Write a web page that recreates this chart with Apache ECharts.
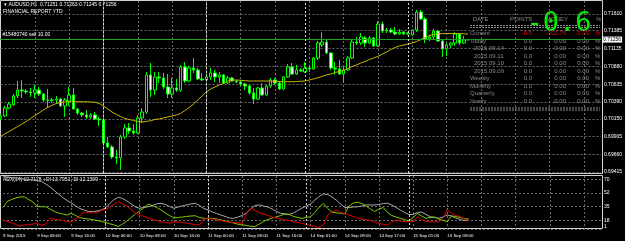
<!DOCTYPE html>
<html>
<head>
<meta charset="utf-8">
<script src="https://cdn.jsdelivr.net/npm/echarts@6/dist/echarts.min.js"></script>
<style>
  html, body { margin: 0; padding: 0; background: #000; }
  #chart { width: 625px; height: 241px; }
</style>
</head>
<body>
<div id="chart"></div>
<script>
  // AUDUSD H1, 9 Sep 2015 00:00 .. 15 Sep 2015 14:00
  const tradingDays = [['2015.09.09', 0, 23], ['2015.09.10', 0, 23], ['2015.09.11', 0, 22], ['2015.09.14', 0, 23], ['2015.09.15', 0, 14]];
  const emptySlots = 31;

  const opens  = [0.70166,0.70194,0.70305,0.70347,0.70472,0.70555,0.70541,0.70527,0.70513,0.70555,
                  0.70499,0.70416,0.70409,0.70416,0.70430,0.70333,0.70402,0.70486,0.70291,0.70235,
                  0.70208,0.70180,0.70208,0.70152,0.70138,0.69818,0.69763,0.69624,0.69610,0.69902,
                  0.70027,0.69985,0.69957,0.70166,0.70249,0.70764,0.70555,0.70736,0.70722,0.70597,
                  0.70499,0.70583,0.70555,0.70875,0.70680,0.70861,0.70833,0.70708,0.70694,0.70736,
                  0.70791,0.70736,0.70764,0.70652,0.70722,0.70680,0.70666,0.70638,0.70611,0.70513,
                  0.70430,0.70583,0.70486,0.70611,0.70694,0.70652,0.70569,0.70736,0.70875,0.70777,
                  0.70833,0.70805,0.70861,0.70847,0.71000,0.71181,0.71222,0.71069,0.70861,0.70847,
                  0.70777,0.70833,0.71000,0.71222,0.71208,0.71278,0.71208,0.71278,0.71167,0.71472,
                  0.71375,0.71389,0.71361,0.71333,0.71361,0.71333,0.71320,0.71389,0.71639,0.71542,
                  0.71264,0.71292,0.71375,0.71236,0.71125,0.71181,0.71208,0.71333,0.71208,0.71251];
  const highs  = [0.70221,0.70333,0.70388,0.70499,0.70680,0.70694,0.70569,0.70583,0.70625,0.70597,
                  0.70513,0.70569,0.70444,0.70472,0.70444,0.70444,0.70597,0.70583,0.70305,0.70249,
                  0.70277,0.70235,0.70249,0.70180,0.70166,0.69902,0.69791,0.69721,0.69930,0.70082,
                  0.70096,0.70082,0.70208,0.70305,0.70805,0.70930,0.70805,0.70805,0.70791,0.70777,
                  0.70722,0.70708,0.70903,0.70944,0.70889,0.71000,0.70861,0.70791,0.70777,0.70861,
                  0.70833,0.70805,0.70777,0.70750,0.70736,0.70694,0.70694,0.70652,0.70625,0.70583,
                  0.70597,0.70652,0.70625,0.70722,0.70722,0.70680,0.70750,0.70916,0.70930,0.70903,
                  0.70861,0.70944,0.70903,0.71014,0.71236,0.71361,0.71250,0.71083,0.70944,0.70972,
                  0.70875,0.71028,0.71250,0.71292,0.71347,0.71306,0.71306,0.71292,0.71514,0.71500,
                  0.71417,0.71417,0.71431,0.71403,0.71375,0.71361,0.71403,0.71667,0.71667,0.71570,
                  0.71320,0.71403,0.71389,0.71250,0.71208,0.71222,0.71361,0.71347,0.71306,0.71263];
  const lows   = [0.70138,0.70180,0.70291,0.70333,0.70444,0.70444,0.70499,0.70458,0.70444,0.70472,
                  0.70388,0.70305,0.70374,0.70360,0.70319,0.70180,0.70333,0.70277,0.70208,0.70180,
                  0.70152,0.70152,0.70138,0.70055,0.69804,0.69749,0.69596,0.69526,0.69443,0.69874,
                  0.69943,0.69930,0.69943,0.70096,0.70221,0.70458,0.70486,0.70652,0.70569,0.70444,
                  0.70444,0.70527,0.70527,0.70652,0.70666,0.70791,0.70694,0.70680,0.70680,0.70694,
                  0.70666,0.70652,0.70638,0.70638,0.70666,0.70652,0.70611,0.70555,0.70486,0.70360,
                  0.70416,0.70472,0.70472,0.70583,0.70625,0.70555,0.70555,0.70722,0.70764,0.70764,
                  0.70805,0.70791,0.70805,0.70833,0.70972,0.71153,0.71055,0.70833,0.70764,0.70764,
                  0.70652,0.70819,0.70986,0.71181,0.71181,0.71153,0.71194,0.71153,0.71153,0.71347,
                  0.71347,0.71347,0.71320,0.71320,0.71320,0.71320,0.71306,0.71361,0.71528,0.71208,
                  0.71236,0.71250,0.71222,0.71014,0.71028,0.71139,0.71167,0.71181,0.71194,0.71245];
  const closes = [0.70194,0.70305,0.70360,0.70472,0.70555,0.70541,0.70527,0.70513,0.70555,0.70499,
                  0.70416,0.70409,0.70416,0.70430,0.70333,0.70416,0.70486,0.70291,0.70235,0.70208,
                  0.70180,0.70208,0.70152,0.70138,0.69818,0.69763,0.69624,0.69610,0.69902,0.70027,
                  0.69985,0.69957,0.70166,0.70249,0.70764,0.70555,0.70736,0.70722,0.70597,0.70499,
                  0.70583,0.70555,0.70875,0.70680,0.70861,0.70833,0.70708,0.70694,0.70736,0.70791,
                  0.70736,0.70764,0.70652,0.70722,0.70680,0.70666,0.70638,0.70611,0.70513,0.70430,
                  0.70583,0.70486,0.70611,0.70694,0.70652,0.70569,0.70736,0.70875,0.70777,0.70833,
                  0.70819,0.70861,0.70847,0.71000,0.71208,0.71222,0.71069,0.70861,0.70847,0.70777,
                  0.70833,0.71000,0.71222,0.71208,0.71292,0.71208,0.71278,0.71167,0.71472,0.71375,
                  0.71389,0.71361,0.71333,0.71361,0.71333,0.71347,0.71389,0.71639,0.71542,0.71264,
                  0.71292,0.71375,0.71236,0.71125,0.71181,0.71208,0.71333,0.71208,0.71250,0.71256];

  const maValues = [0.69909,0.69943,0.69978,0.70013,0.70048,0.70082,0.70117,0.70159,0.70201,0.70235,
                    0.70277,0.70312,0.70340,0.70367,0.70381,0.70388,0.70392,0.70392,0.70392,0.70392,
                    0.70392,0.70388,0.70384,0.70370,0.70333,0.70291,0.70249,0.70215,0.70187,0.70159,
                    0.70145,0.70131,0.70117,0.70110,0.70117,0.70128,0.70145,0.70152,0.70166,0.70180,
                    0.70194,0.70208,0.70228,0.70270,0.70312,0.70360,0.70416,0.70472,0.70527,0.70569,
                    0.70597,0.70625,0.70645,0.70680,0.70694,0.70694,0.70690,0.70684,0.70680,0.70680,
                    0.70680,0.70680,0.70680,0.70680,0.70677,0.70673,0.70670,0.70670,0.70670,0.70673,
                    0.70676,0.70680,0.70694,0.70708,0.70726,0.70743,0.70764,0.70777,0.70798,0.70812,
                    0.70826,0.70854,0.70882,0.70903,0.70930,0.70951,0.70979,0.71000,0.71021,0.71055,
                    0.71083,0.71118,0.71146,0.71167,0.71181,0.71194,0.71208,0.71229,0.71257,0.71285,
                    0.71313,0.71326,0.71333,0.71338,0.71340,0.71340,0.71340,0.71338,0.71336,0.71333];

  // ADX(14) window, values as read against the window's own grid
  const adxMain = [73.5,73.2,72.5,71.9,71.3,70.5,70.0,69.4,68.5,67.4,64.3,60.5,56.0,51.6,47.1,43.3,40.2,36.4,33.2,31.3,
                   29.4,29.4,30.0,31.3,33.8,39.5,44.6,47.4,45.9,42.8,39.0,35.1,33.5,34.5,35.4,37.0,39.0,39.8,38.3,35.7,
                   33.5,35.1,36.6,37.7,39.0,39.8,37.0,33.2,31.3,28.7,26.9,24.9,23.1,21.1,20.7,22.4,24.3,27.5,32.5,37.0,
                   37.7,36.3,35.1,32.5,29.4,27.1,26.2,25.8,27.5,30.6,33.8,36.3,39.0,44.0,48.4,51.6,50.9,47.8,44.0,39.0,
                   34.5,34.5,35.1,35.4,36.3,37.7,37.7,37.7,38.3,39.5,39.8,37.7,34.5,31.3,28.1,25.6,25.6,28.1,28.7,25.6,
                   22.8,21.8,20.7,22.4,24.9,23.7,21.1,19.3,18.0,18.6];
  const plusDi  = [34.5,42.1,44.6,46.6,47.8,47.8,44.6,41.5,35.7,35.4,35.4,32.5,29.4,27.5,26.2,24.9,27.1,24.3,21.8,20.5,
                   19.9,19.0,18.0,16.7,15.5,13.8,12.3,10.4,13.5,17.3,21.8,26.2,30.0,34.5,38.6,37.0,34.5,31.3,27.5,24.3,
                   21.1,21.8,22.4,23.1,23.7,24.0,21.8,20.7,20.7,20.7,19.9,18.6,17.3,16.0,14.8,13.3,12.3,11.7,10.7,10.4,
                   13.5,16.7,19.3,21.1,22.4,24.3,26.2,25.6,23.1,21.8,20.7,21.8,22.8,28.1,35.1,39.5,33.2,28.7,27.7,27.1,
                   26.2,36.3,40.2,41.1,39.5,36.3,32.5,29.4,32.5,34.5,28.1,24.3,22.4,20.7,19.3,17.3,21.8,26.9,23.7,20.7,
                   21.8,22.4,19.9,18.0,16.7,23.7,23.1,21.8,20.5,19.7];
  const minusDi = [18.6,16.7,14.8,12.9,11.0,12.3,12.9,13.5,14.2,11.7,13.5,20.7,19.7,18.9,18.0,16.7,16.4,19.9,24.3,28.7,
                   28.1,27.5,28.1,30.7,31.9,34.5,39.0,41.8,39.0,36.3,31.9,27.5,24.9,23.1,21.1,19.3,18.0,16.7,15.5,14.4,
                   16.0,16.0,15.5,14.8,13.5,12.9,12.3,19.9,20.2,19.9,18.9,18.0,16.7,16.0,15.5,14.8,14.4,26.2,33.5,30.7,
                   28.1,26.2,24.3,22.4,21.1,19.9,18.6,18.0,16.7,15.5,14.4,12.9,11.7,10.4,9.1,12.3,24.9,28.7,31.3,28.1,
                   26.9,24.9,23.1,21.1,19.9,18.9,18.0,16.0,14.4,12.9,12.3,16.0,18.6,17.3,16.4,16.4,16.4,22.8,19.3,16.4,
                   16.4,16.4,16.4,21.1,31.3,26.9,24.3,22.8,19.9,18.0];

  const priceTicks = [0.69415, 0.69660, 0.69905, 0.70150, 0.70390, 0.70635, 0.70880, 0.71135, 0.71385, 0.71610];
  const priceMin = 0.69401, priceMax = 0.71792;
  const adxMin = 7.2, adxMax = 74.4;
  const adxTicks = [7.2, 18.25, 35.5, 52.75, 70];
  const adxBottomLabel = '1';
  const timeLabels = ['9 Sep 2015', '9 Sep 08:00', '9 Sep 16:00', '10 Sep 00:00', '10 Sep 08:00', '10 Sep 16:00',
                      '11 Sep 00:00', '11 Sep 08:00', '11 Sep 16:00', '14 Sep 01:00', '14 Sep 09:00', '14 Sep 17:00',
                      '15 Sep 01:00', '15 Sep 09:00'];
  const daySeparators = [24, 48, 71, 95];
  const bidPrice = 0.71256;
  const orderText = '#15480740 sell 10.00';

  const tableHeader = ['DATE', 'POINTS', 'MONEY', '%'];
  const tableRows = ['Current', 'Today', '2015.09.14', '2015.09.11', '2015.09.10', '2015.09.09', 'Weekly', 'Monthly', 'Quarterly', 'Yearly'];
  const tablePoints = ['-0.5', '0.0', '0.0', '0.0', '0.0', '0.0', '0.0', '0.0', '0.0', '0.0'];
  const tableMoney = ['-102.75', '0.00', '0.00', '0.00', '0.00', '0.00', '0.00', '0.00', '0.00', '0.00'];
  const tablePct = ['-1.03', '0.00', '0.00', '0.00', '0.00', '0.00', '0.00', '0.00', '0.00', '0.00'];
  const bigProfit = '-0.6';

  // build categories (hour bars) plus empty future slots
  const barTimes = [];
  tradingDays.forEach(d => {
    for (let h = d[1]; h <= d[2]; h++) barTimes.push(d[0] + ' ' + String(h).padStart(2, '0') + ':00');
  });
  const barCount = barTimes.length;
  for (let k = 0; k < emptySlots; k++) barTimes.push('future ' + k);

  const candles = opens.map((o, i) => [o, closes[i], lows[i], highs[i]]);

  const step = 4.29;
  const gridLeft = 0.5;
  const gridWidth = step * (barTimes.length - 1);
  const font = 'Liberation Sans';
  const gridColor = '#6a6a6a';

  const myChart = echarts.init(document.getElementById('chart'), null, { renderer: 'canvas' });

  function xCat(grid) {
    return {
      type: 'category', gridIndex: grid, data: barTimes, boundaryGap: false,
      axisLine: { show: false }, axisTick: { show: false },
      axisLabel: { show: false },
      splitLine: { show: true, interval: (i) => i % 8 === 0 && i > 0, lineStyle: { color: gridColor, type: [2, 2], width: 1 } }
    };
  }
  const xBottom = xCat(1);
  xBottom.axisLabel = {
    show: true, interval: (i) => i % 8 === 0 && i < barCount,
    formatter: (v, i) => timeLabels[i / 8] || '',
    color: '#ffffff', fontFamily: font, fontSize: 4.4, align: 'left', margin: 5
  };

  const daySepLine = {
    silent: true, symbol: ['none', 'none'], label: { show: false },
    lineStyle: { color: '#d8d8d8', type: [2, 2], width: 1 },
    data: daySeparators.map(i => ({ xAxis: barTimes[i] }))
  };

  // info table overlay
  const gray = '#8a8a8a';
  const graphics = [];
  function txt(x, y, s, color, size, align, family) {
    graphics.push({ type: 'text', silent: true, style: { text: s, x: x, y: y, fill: color, font: size + 'px "' + (family || font) + '"', textAlign: align || 'left', textVerticalAlign: 'middle' } });
  }
  function hline(x1, x2, y, color, dash) {
    graphics.push({ type: 'line', silent: true, shape: { x1: x1, y1: y, x2: x2, y2: y }, style: { stroke: color, lineWidth: 1, lineDash: dash || null } });
  }
  txt(4, 5, '\u25BE AUDUSD,H1  0.71251 0.71263 0.71245 0.71256', '#ffffff', 5);
  txt(3, 12, 'FINANCIAL REPORT YTD', '#ffffff', 5);
  txt(3, 180, 'ADX(14) 12.7178 +DI 13.7951 -DI 12.1399', '#ffffff', 5);

  txt(473, 19, tableHeader[0], gray, 6);
  txt(510, 19, tableHeader[1], gray, 6);
  txt(546, 19, tableHeader[2], gray, 6);
  txt(596, 19, tableHeader[3], gray, 6);
  hline(470, 600, 25.5, gray, [2, 1]);
  hline(470, 600, 27.5, gray, [2, 1]);
  tableRows.forEach((r, k) => {
    const y = 33.5 + 7.5 * k;
    const c = k === 0 ? '#ff0000' : gray;
    txt(/^\d/.test(r) ? 474 : 470, y, r, gray, 6);
    txt(532, y, tablePoints[k], c, 6, 'right');
    txt(566, y, tableMoney[k], c, 6, 'right');
    txt(589, y, tablePct[k], c, 6, 'right');
    txt(595, y, '%', c, 6);
  });
  hline(470, 600, 108, gray, [2, 1]);
  hline(470, 600, 110, gray, [2, 1]);
  txt(559, 24, bigProfit, '#00ee00', 27, 'center', 'DejaVu Sans Mono');

  // frames
  graphics.push({ type: 'rect', silent: true, shape: { x: 0.5, y: 0.5, width: 602, height: 173 }, style: { fill: 'none', stroke: '#d0d0d0', lineWidth: 1 } });
  graphics.push({ type: 'rect', silent: true, shape: { x: 0.5, y: 175.5, width: 602, height: 53 }, style: { fill: 'none', stroke: '#d0d0d0', lineWidth: 1 } });

  const option = {
    backgroundColor: '#000000',
    animation: false,
    grid: [
      { left: gridLeft, top: 1, width: gridWidth, height: 172 },
      { left: gridLeft, top: 176, width: gridWidth, height: 53 }
    ],
    xAxis: [xCat(0), xBottom],
    yAxis: [
      {
        type: 'value', gridIndex: 0, position: 'right', min: priceMin, max: priceMax, offset: 602 - gridLeft - gridWidth,
        axisLine: { show: false }, axisTick: { show: false, customValues: priceTicks },
        axisLabel: { customValues: priceTicks, formatter: v => v.toFixed(5), color: '#ffffff', fontFamily: font, fontSize: 5, margin: 2 },
        splitLine: { show: true, lineStyle: { color: gridColor, type: [2, 2], width: 1 } }
      },
      {
        type: 'value', gridIndex: 1, position: 'right', min: adxMin, max: adxMax, offset: 602 - gridLeft - gridWidth,
        axisLine: { show: false }, axisTick: { show: false, customValues: adxTicks },
        axisLabel: { customValues: adxTicks, formatter: v => (v === adxMin ? adxBottomLabel : String(Math.floor(v))), color: '#ffffff', fontFamily: font, fontSize: 5, margin: 2,
                     verticalAlignMinLabel: 'bottom' },
        splitLine: { show: true, lineStyle: { color: gridColor, type: [2, 2], width: 1 } }
      }
    ],
    series: [
      {
        type: 'candlestick', xAxisIndex: 0, yAxisIndex: 0, data: candles, barWidth: 3,
        itemStyle: { color: '#000000', color0: '#ffffff', borderColor: '#00ff00', borderColor0: '#00ff00', borderWidth: 1 },
        markLine: {
          silent: true, symbol: ['none', 'none'], precision: 5,
          data: [
            { yAxis: bidPrice, lineStyle: { color: '#1f9f1f', type: 'solid', width: 1 },
              label: { show: true, position: 'end', formatter: bidPrice.toFixed(5), color: '#000', backgroundColor: '#fff', fontFamily: font, fontSize: 5, padding: [1, 1, 0, 1], distance: 1 } },
            { yAxis: bidPrice, lineStyle: { color: '#1f9f1f', type: 'solid', width: 1 },
              label: { show: true, position: 'insideStartTop', formatter: orderText, color: '#ffffff', fontFamily: font, fontSize: 5, distance: 2 } }
          ]
        }
      },
      {
        type: 'line', xAxisIndex: 0, yAxisIndex: 0, data: maValues, symbol: 'none',
        lineStyle: { color: '#c8b400', width: 1 }, markLine: daySepLine
      },
      { type: 'line', xAxisIndex: 1, yAxisIndex: 1, data: adxMain, symbol: 'none', lineStyle: { color: '#a8a8a8', width: 1 }, markLine: daySepLine },
      { type: 'line', xAxisIndex: 1, yAxisIndex: 1, data: plusDi, symbol: 'none', lineStyle: { color: '#7ccd00', width: 1 } },
      { type: 'line', xAxisIndex: 1, yAxisIndex: 1, data: minusDi, symbol: 'none', lineStyle: { color: '#e00000', width: 1 } }
    ],
    graphic: graphics
  };

  myChart.setOption(option);
  window.addEventListener('resize', () => { myChart.resize(); });
</script>
</body>
</html>
